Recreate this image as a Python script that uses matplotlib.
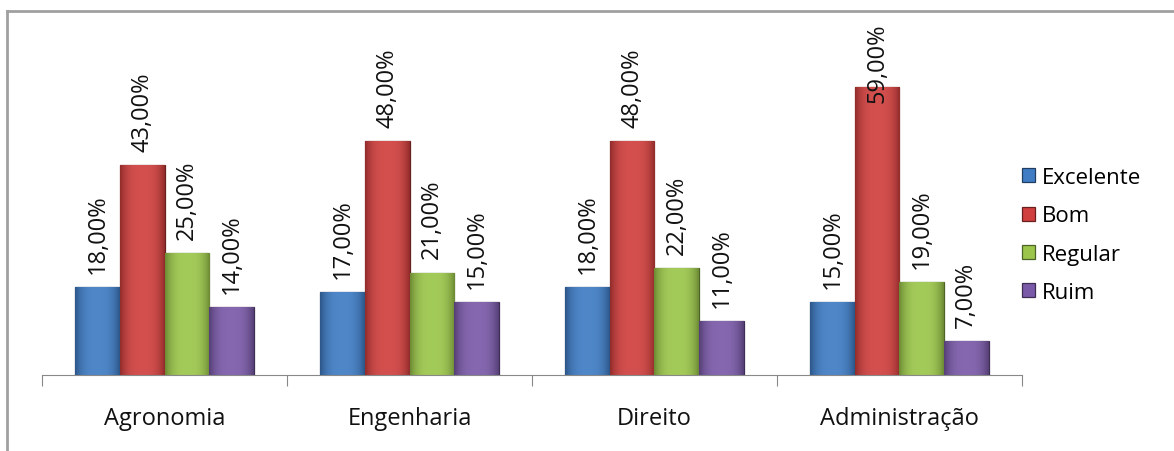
import numpy as np
import matplotlib.pyplot as plt
from matplotlib.lines import Line2D
from matplotlib.colors import to_rgb

categories = ['Agronomia', 'Engenharia', 'Direito', 'Administração']
series = ['Excelente', 'Bom', 'Regular', 'Ruim']
excelente = [18, 17, 18, 15]
bom = [43, 48, 48, 59]
regular = [25, 21, 22, 19]
ruim = [14, 15, 11, 7]
values = [excelente, bom, regular, ruim]
colors = ['#3f7cc4', '#cf403e', '#9bc64b', '#7a5aa8']

plt.rcParams['font.family'] = ['Open Sans', 'DejaVu Sans']

fig = plt.figure(figsize=(11.74, 4.52), dpi=100)
ax = fig.add_axes([0.0358, 0.168, 0.8347, 0.759])

x = np.arange(len(categories))
width = 0.182
label_ceil = 56.0  # labels that would leave the chart get pushed down (as Excel does)


def shade(c, f):
    r = np.array(to_rgb(c))
    if f > 0:
        return r + (1 - r) * f
    return r * (1 + f)


for i, (name, vals, c) in enumerate(zip(series, values, colors)):
    pos = x + (i - 1.5) * width
    bars = ax.bar(pos, vals, width, color=c, edgecolor=shade(c, -0.5),
                  linewidth=0.9, label=name, zorder=2)
    # horizontal gradient inside each bar
    grad = np.linspace(-1, 1, 64)
    prof = np.abs(grad) ** 3
    img = np.array([shade(c, 0.08) * (1 - p) + shade(c, -0.3) * p for p in prof])[None, :, :]
    for b, v in zip(bars, vals):
        x0 = b.get_x()
        im = ax.imshow(img, extent=(x0, x0 + width, 0, v), aspect='auto', zorder=2.5,
                       interpolation='bilinear')
        im.set_clip_path(b)
        ax.text(b.get_x() + width / 2, min(v + 2.9, label_ceil), f'{v:.2f}%'.replace('.', ','),
                rotation=90, ha='center', va='bottom', fontsize=17, color='#111111', zorder=4)

ax.set_xlim(-0.5, 3.5)
ax.set_ylim(0, 70.3)
for s in ['top', 'right', 'left']:
    ax.spines[s].set_visible(False)
ax.spines['bottom'].set_color('#888888')
ax.set_yticks([])
ax.set_xticks(np.arange(-0.5, 4, 1))
ax.set_xticklabels([])
ax.tick_params(axis='x', which='major', length=8, color='#888888', direction='out')
ax.set_xticks(x, minor=True)
ax.set_xticklabels(categories, minor=True, fontsize=17, color='#111111')
ax.tick_params(axis='x', which='minor', length=0, pad=22)

leg = ax.legend(loc='center left', bbox_to_anchor=(1.0, 0.408), frameon=False,
                fontsize=16, handlelength=0.6, handleheight=0.6, borderpad=0,
                borderaxespad=0, handletextpad=0.3, labelspacing=0.78)

fig.add_artist(Line2D([7 / 1174, 7 / 1174], [0, 1 - 12 / 452], color='#a0a0a0', lw=2))
fig.add_artist(Line2D([7 / 1174, 1], [1 - 12 / 452, 1 - 12 / 452], color='#a0a0a0', lw=2))

fig.savefig('out.png', dpi=100)
